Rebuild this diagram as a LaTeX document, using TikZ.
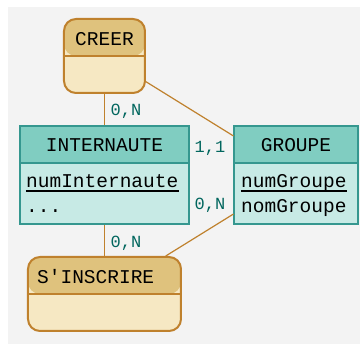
\documentclass[tikz,border=0pt]{standalone}
\usepackage{fontspec}
\setmonofont{Liberation Mono}
\definecolor{bgcolor}{HTML}{F3F3F3}
\definecolor{enthead}{HTML}{80CDC1}
\definecolor{entbody}{HTML}{C7EAE5}
\definecolor{entline}{HTML}{35978F}
\definecolor{assohead}{HTML}{DFC27D}
\definecolor{assobody}{HTML}{F6E8C3}
\definecolor{assoline}{HTML}{BF812D}
\definecolor{cardtext}{HTML}{01665E}
\begin{document}
\begin{tikzpicture}[x = 1pt, y = -1pt,
    box/.style = {line width = 2pt, inner sep = 0pt,
      path picture = {
        \fill [#1] (path picture bounding box.north west) rectangle ([yshift = -37pt]path picture bounding box.north east);
        \draw [line width = 1.6pt] ([yshift = -37pt]path picture bounding box.north west) -- ([yshift = -37pt]path picture bounding box.north east);
      }},
    entity/.style = {box = enthead, draw = entline, fill = entbody},
    assoc/.style = {box = assohead, draw = assoline, fill = assobody, rounded corners = 12pt},
    title/.style = {font = \fontsize{19.5}{20}\selectfont\ttfamily, anchor = base, inner sep = 0pt},
    attr/.style = {title, anchor = base west},
    card/.style = {font = \fontsize{17}{18}\selectfont\ttfamily, text = cardtext, anchor = base west, inner sep = 0pt},
    leg/.style = {draw = assoline, line width = 1.2pt},
    ul/.style = {line width = 1.3pt}]
            \useasboundingbox (0, 0) rectangle (360, 344);
            \fill [bgcolor] (8, 7) rectangle (360, 344);
            \node [assoc, minimum width = 81pt, minimum height = 74pt] (creer) at (104.5, 56) {};
            \node [entity, minimum width = 169pt, minimum height = 98pt] (internaute) at (104.5, 175) {};
            \node [entity, minimum width = 124pt, minimum height = 98pt] (groupe) at (296.5, 175) {};
            \node [assoc, minimum width = 153pt, minimum height = 74pt] (sinscrire) at (104.5, 294) {};
            \draw [leg] (creer) -- (internaute);
            \draw [leg] (creer) -- (groupe);
            \draw [leg] (internaute) -- (sinscrire);
            \draw [leg] (groupe) -- (sinscrire);
            \node [title] (creer title) at (104.5, 46) {CREER};
            \node [title] (internaute title) at (104.5, 152) {INTERNAUTE};
            \node [title] (groupe title) at (296, 152) {GROUPE};
            \node [attr] (sinscrire title) at (37, 284) {S'INSCRIRE};
            \node [attr] (num internaute) at (26, 188) {numInternaute};
            \node [attr] (internaute more) at (26, 213) {...};
            \node [attr] (num groupe) at (241, 188) {numGroupe};
            \node [attr] (nom groupe) at (241, 213) {nomGroupe};
            \draw [ul] ([yshift = -3pt]num internaute.base west) -- ([yshift = -3pt]num internaute.base east);
            \draw [ul] ([yshift = -3pt]num groupe.base west) -- ([yshift = -3pt]num groupe.base east);
            \node [card] (creer card) at (110.5, 116) {0,N};
            \node [card] (creer groupe card) at (194.5, 153) {1,1};
            \node [card] (sinscrire groupe card) at (194.5, 210) {0,N};
            \node [card] (sinscrire card) at (110.5, 248) {0,N};
        \end{tikzpicture}
\end{document}
